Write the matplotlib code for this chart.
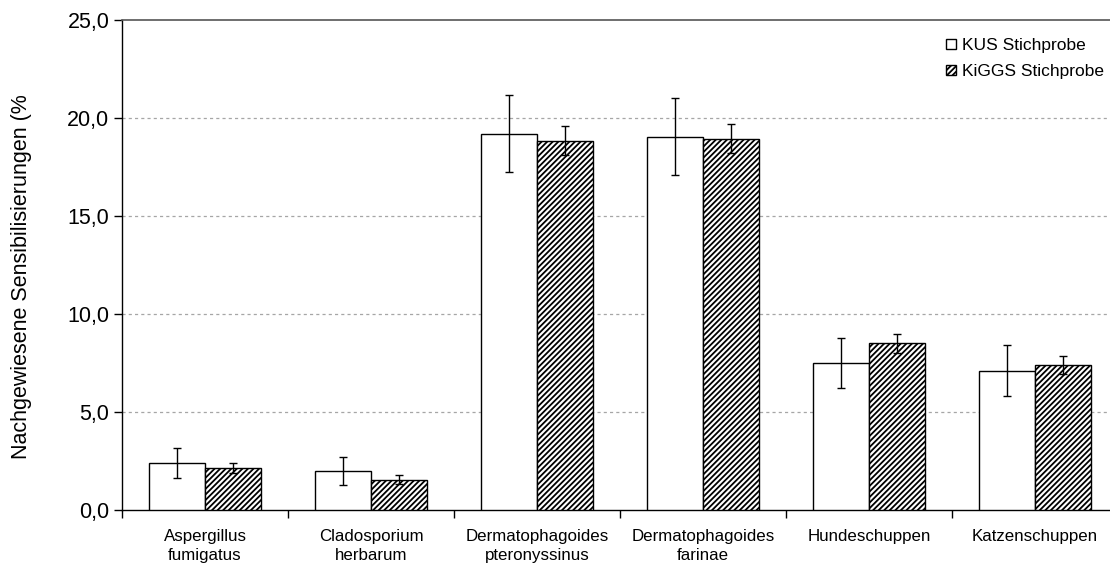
import matplotlib
matplotlib.use("Agg")
import matplotlib.pyplot as plt
from matplotlib.patches import Patch
import numpy as np

plt.rcParams["font.family"] = ["Liberation Sans", "DejaVu Sans"]
plt.rcParams["hatch.linewidth"] = 1.3

categories = ["Aspergillus\nfumigatus", "Cladosporium\nherbarum",
              "Dermatophagoides\npteronyssinus", "Dermatophagoides\nfarinae",
              "Hundeschuppen", "Katzenschuppen"]
kus = [2.4, 2.0, 19.2, 19.05, 7.5, 7.1]
kus_err = [0.75, 0.72, 1.96, 1.95, 1.27, 1.3]
kiggs = [2.15, 1.55, 18.85, 18.95, 8.5, 7.4]
kiggs_err = [0.27, 0.22, 0.76, 0.75, 0.5, 0.48]
yticks = [0, 5, 10, 15, 20, 25]
ylabels = ["0,0", "5,0", "10,0", "15,0", "20,0", "25,0"]

fig = plt.figure(figsize=(11.1, 5.65), dpi=100)
ax = fig.add_axes([122 / 1110, 1 - 510 / 565, 996 / 1110, 490 / 565])

x = np.arange(len(categories))
w = 0.335
err_style = dict(ecolor="black", elinewidth=1, capsize=3, capthick=1)
ax.bar(x - w / 2, kus, w, color="white", edgecolor="black", linewidth=1,
       yerr=kus_err, error_kw=err_style, zorder=3)
ax.bar(x + w / 2, kiggs, w, color="white", edgecolor="black", linewidth=1, hatch="//////",
       yerr=kiggs_err, error_kw=err_style, zorder=3)

ax.set_xlim(-0.5, len(categories) - 0.5)
ax.set_ylim(0, 25)
ax.set_yticks(yticks)
ax.set_yticklabels(ylabels, fontsize=15.5)
ax.tick_params(axis="y", direction="out", length=6, width=1, pad=3)

ax.set_xticks(x)
ax.set_xticklabels(categories, fontsize=12.2, linespacing=1.32)
ax.tick_params(axis="x", which="major", length=0, pad=13.5)
ax.set_xticks(np.arange(-0.5, len(categories)), minor=True)
ax.tick_params(axis="x", which="minor", direction="out", length=6, width=1)

for yv in [5, 10, 15, 20]:
    ax.axhline(yv, color="#a6a6a6", linewidth=0.9, linestyle=(0, (2.5, 2.5)), zorder=1)

ax.spines["right"].set_visible(False)
ax.spines["top"].set_color("#555555")
ax.spines["top"].set_linestyle((0, (2, 1)))
ax.spines["top"].set_linewidth(1.2)
ax.spines["left"].set_linewidth(1)
ax.spines["bottom"].set_linewidth(1)

fig.text(22 / 1110, 1 - 277 / 565, "Nachgewiesene Sensibilisierungen (%",
         rotation=90, ha="center", va="center", fontsize=15.5)

handles = [Patch(facecolor="white", edgecolor="black", linewidth=1),
           Patch(facecolor="white", edgecolor="black", linewidth=1, hatch="//////")]
fig.legend(handles, ["KUS Stichprobe", "KiGGS Stichprobe"], loc="upper left",
           bbox_to_anchor=(946 / 1110, 1 - 38 / 565), frameon=False, fontsize=12.5,
           handlelength=0.55, handleheight=0.55, handletextpad=0.4, labelspacing=0.65,
           borderaxespad=0, borderpad=0)

plt.savefig("out.png", dpi=100)
